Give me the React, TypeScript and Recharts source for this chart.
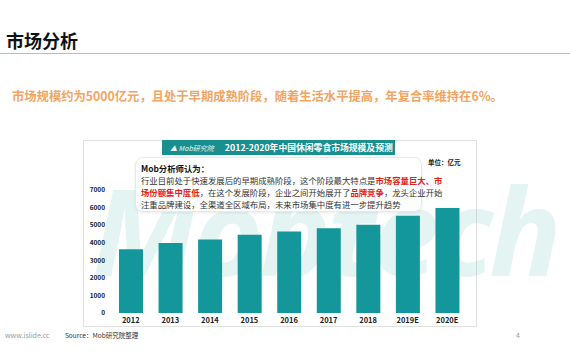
import { BarChart, Bar, XAxis, YAxis } from 'recharts'

const years = ['2012', '2013', '2014', '2015', '2016', '2017', '2018', '2019E', '2020E']
const marketSize = [3630, 3980, 4190, 4460, 4640, 4830, 5020, 5530, 5980]
const yTicks = [0, 1000, 2000, 3000, 4000, 5000, 6000, 7000]

const data = years.map((year, i) => ({ year, value: marketSize[i] }))

const FONT = '"Noto Sans CJK SC", "Noto Sans", sans-serif'
const TEAL = '#13979a'
const RED = '#e2231a'

export default function App() {
  return (
    <div style={{ position: 'absolute', left: 0, top: 0, width: 570, height: 360, background: '#fff', fontFamily: FONT, overflow: 'hidden' }}>
      {/* page title */}
      <div style={{ position: 'absolute', left: 6, top: 28, fontSize: 18, fontWeight: 700, color: '#111', lineHeight: '24px' }}>市场分析</div>
      <div style={{ position: 'absolute', left: 0, top: 53, width: 570, height: 1, background: '#bdbdbd' }} />
      <div style={{ position: 'absolute', left: 12, top: 87, fontSize: 12.3, fontWeight: 700, color: '#f2a462', lineHeight: '18px', whiteSpace: 'nowrap' }}>
        市场规模约为5000亿元，且处于早期成熟阶段，随着生活水平提高，年复合率维持在6%。
      </div>

      {/* chart panel */}
      <div style={{ position: 'absolute', left: 83, top: 140, width: 394, height: 187, border: '1px solid #e0e0e0', boxSizing: 'border-box', background: '#fff' }} />
      <div style={{ position: 'absolute', left: 92, top: 165, fontSize: 120, fontStyle: 'italic', fontWeight: 700, color: 'rgba(40,170,165,0.13)', lineHeight: '130px', whiteSpace: 'nowrap', fontFamily: '"Open Sans", sans-serif', letterSpacing: -4 }}>Mobtech</div>
      <div style={{ position: 'absolute', left: 162, top: 140, width: 233, height: 15, background: '#17908f', color: '#fff', display: 'flex', alignItems: 'center' }}>
        <span style={{ marginLeft: 8, fontSize: 7, fontStyle: 'italic', opacity: 0.9, whiteSpace: 'nowrap' }}>▲ Mob研究院</span>
        <span style={{ marginLeft: 11, fontSize: 8.8, fontWeight: 700, whiteSpace: 'nowrap' }}>2012-2020年中国休闲零食市场规模及预测</span>
      </div>
      <div style={{ position: 'absolute', left: 428, top: 157, fontSize: 6.5, fontWeight: 700, color: '#222', whiteSpace: 'nowrap' }}>单位：亿元</div>

      <div style={{ position: 'absolute', left: 0, top: 0 }}>
        <BarChart width={570} height={360} data={data} margin={{ top: 190, right: 103, bottom: 33, left: 0 }}>
          <XAxis
            dataKey="year"
            height={14}
            axisLine={false}
            tickLine={false}
            tickSize={0}
            tickMargin={5}
            interval={0}
            tick={{ fontSize: 7.5, fontWeight: 700, fill: '#222', fontFamily: FONT }}
          />
          <YAxis
            width={111}
            domain={[0, 7000]}
            ticks={yTicks}
            axisLine={false}
            tickLine={false}
            tickSize={0}
            tickMargin={6}
            tick={{ fontSize: 6.5, fontWeight: 700, fill: '#222', fontFamily: FONT }}
          />
          <Bar dataKey="value" fill={TEAL} barSize={24} isAnimationActive={false} />
        </BarChart>
      </div>

      {/* analyst note */}
      <div style={{ position: 'absolute', left: 135, top: 157, width: 287, height: 55, background: 'rgba(255,255,255,0.96)', border: '1px solid #e8e8e8', borderRadius: 8, boxSizing: 'border-box', boxShadow: '0 1px 3px rgba(0,0,0,0.08)', padding: '4px 5px', fontSize: 8.4, lineHeight: '12px', color: '#333', whiteSpace: 'nowrap' }}>
        <div style={{ fontWeight: 700, color: '#111' }}>Mob分析师认为：</div>
        <div>行业目前处于快速发展后的早期成熟阶段，这个阶段最大特点是<b style={{ color: RED }}>市场容量巨大、市</b></div>
        <div><b style={{ color: RED }}>场份额集中度低</b>，在这个发展阶段，企业之间开始展开了<b style={{ color: RED }}>品牌竞争</b>，龙头企业开始</div>
        <div>注重品牌建设，全渠道全区域布局，未来市场集中度有进一步提升趋势</div>
      </div>

      {/* footer */}
      <div style={{ position: 'absolute', left: 5, top: 330, fontSize: 7, color: '#9a9a9a', whiteSpace: 'nowrap' }}>www.islide.cc</div>
      <div style={{ position: 'absolute', left: 65, top: 330, fontSize: 6.5, color: '#333', whiteSpace: 'nowrap' }}>Source：Mob研究院整理</div>
      <div style={{ position: 'absolute', left: 516, top: 330, fontSize: 7, color: '#9a9a9a' }}>4</div>
    </div>
  )
}
